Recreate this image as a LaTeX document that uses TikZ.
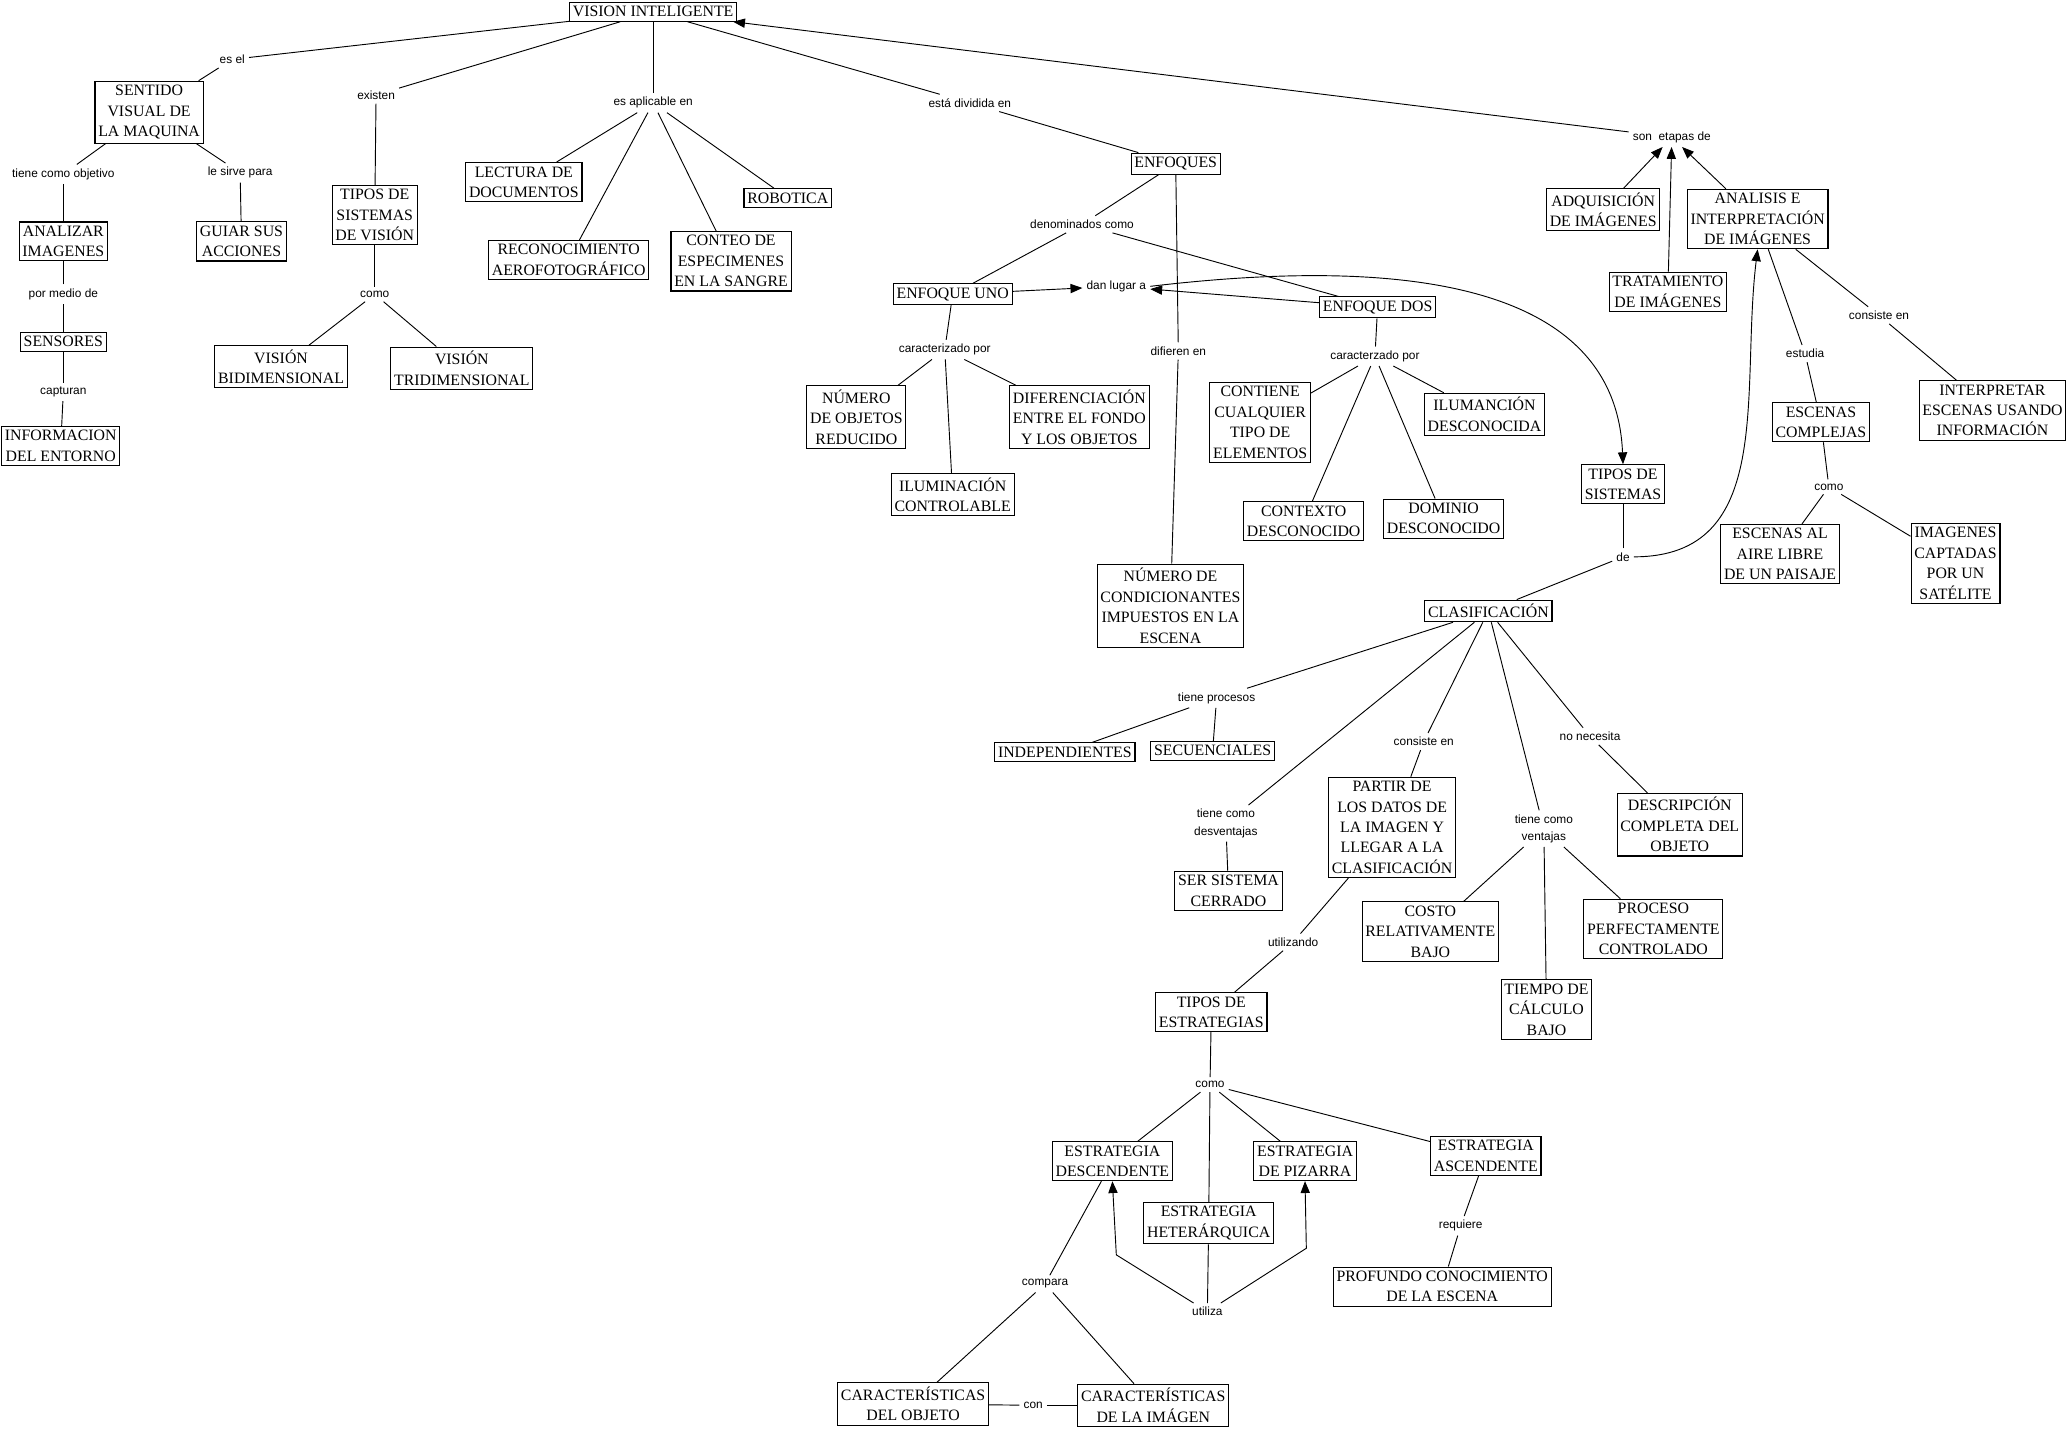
\documentclass[tikz,border=0pt]{standalone}
\usepackage{fontspec}
\setmainfont{Liberation Serif}
\newfontfamily\lblfont{Liberation Sans}
\usetikzlibrary{arrows.meta}

\begin{document}
\begin{tikzpicture}[x=1pt,y=-1pt,
  concept/.style={draw,line width=0.8pt,rectangle,align=center,inner xsep=2.5pt,inner ysep=3pt,font=\fontsize{12}{15.5}\selectfont},
  link/.style={align=center,inner sep=3pt,font=\lblfont\fontsize{9}{13}\selectfont},
  conn/.style={line width=0.7pt},
  connarr/.style={conn,-{Triangle[length=9pt,width=7pt]}}]
\useasboundingbox (0,0) rectangle (1568,1083);

\node[concept] (vision) at (495,9) {VISION INTELIGENTE};
\node[concept] (sentido) at (113,85) {SENTIDO\\VISUAL DE\\LA MAQUINA};
\node[concept] (analizar) at (48,183) {ANALIZAR\\IMAGENES};
\node[concept] (sensores) at (48,259) {SENSORES};
\node[concept] (informacion) at (46,338) {INFORMACION\\DEL ENTORNO};
\node[concept] (guiar) at (183,183) {GUIAR SUS\\ACCIONES};
\node[concept] (tipossv) at (284,163) {TIPOS DE\\SISTEMAS\\DE VISIÓN};
\node[concept] (bidim) at (213,278) {VISIÓN\\BIDIMENSIONAL};
\node[concept] (tridim) at (350,279) {VISIÓN\\TRIDIMENSIONAL};
\node[concept] (lectura) at (397,138) {LECTURA DE\\DOCUMENTOS};
\node[concept] (reconoc) at (431,197) {RECONOCIMIENTO\\AEROFOTOGRÁFICO};
\node[concept] (conteo) at (554,198) {CONTEO DE\\ESPECIMENES\\EN LA SANGRE};
\node[concept] (robotica) at (597,150) {ROBOTICA};
\node[concept] (enfoques) at (891,124) {ENFOQUES};
\node[concept] (enfuno) at (722,223) {ENFOQUE UNO};
\node[concept] (enfdos) at (1044,233) {ENFOQUE DOS};
\node[concept] (numobj) at (649,316) {NÚMERO\\DE OBJETOS\\REDUCIDO};
\node[concept] (difer) at (818,316) {DIFERENCIACIÓN\\ENTRE EL FONDO\\Y LOS OBJETOS};
\node[concept] (ilumctl) at (722,375) {ILUMINACIÓN\\CONTROLABLE};
\node[concept] (numcond) at (887,459) {NÚMERO DE\\CONDICIONANTES\\IMPUESTOS EN LA\\ESCENA};
\node[concept] (contiene) at (955,320) {CONTIENE\\CUALQUIER\\TIPO DE\\ELEMENTOS};
\node[concept] (ilumdesc) at (1125,314) {ILUMANCIÓN\\DESCONOCIDA};
\node[concept] (contexto) at (988,395) {CONTEXTO\\DESCONOCIDO};
\node[concept] (dominio) at (1094,393) {DOMINIO\\DESCONOCIDO};
\node[concept] (adquis) at (1215,159) {ADQUISICIÓN\\DE IMÁGENES};
\node[concept] (tratam) at (1264,221) {TRATAMIENTO\\DE IMÁGENES};
\node[concept] (analisis) at (1332,166) {ANALISIS E\\INTERPRETACIÓN\\DE IMÁGENES};
\node[concept] (interpretar) at (1510,311) {INTERPRETAR\\ESCENAS USANDO\\INFORMACIÓN};
\node[concept] (escenas) at (1380,320) {ESCENAS\\COMPLEJAS};
\node[concept] (escaire) at (1349,420) {ESCENAS AL\\AIRE LIBRE\\DE UN PAISAJE};
\node[concept] (imgsat) at (1482,427) {IMAGENES\\CAPTADAS\\POR UN\\SATÉLITE};
\node[concept] (tipossis) at (1230,367) {TIPOS DE\\SISTEMAS};
\node[concept] (clasif) at (1128,463) {CLASIFICACIÓN};
\node[concept] (indep) at (807,570) {INDEPENDIENTES};
\node[concept] (secuen) at (919,569) {SECUENCIALES};
\node[concept] (sercerrado) at (931,675) {SER SISTEMA\\CERRADO};
\node[concept] (partir) at (1055,627) {PARTIR DE\\LOS DATOS DE\\LA IMAGEN Y\\LLEGAR A LA\\CLASIFICACIÓN};
\node[concept] (costo) at (1084,706) {COSTO\\RELATIVAMENTE\\BAJO};
\node[concept] (tiempo) at (1172,765) {TIEMPO DE\\CÁLCULO\\BAJO};
\node[concept] (proceso) at (1253,704) {PROCESO\\PERFECTAMENTE\\CONTROLADO};
\node[concept] (descripcion) at (1273,625) {DESCRIPCIÓN\\COMPLETA DEL\\OBJETO};
\node[concept] (tiposest) at (918,767) {TIPOS DE\\ESTRATEGIAS};
\node[concept] (estdesc) at (843,880) {ESTRATEGIA\\DESCENDENTE};
\node[concept] (estpiz) at (989,880) {ESTRATEGIA\\DE PIZARRA};
\node[concept] (estasc) at (1126,876) {ESTRATEGIA\\ASCENDENTE};
\node[concept] (esthet) at (916,927) {ESTRATEGIA\\HETERÁRQUICA};
\node[concept] (profundo) at (1093,975) {PROFUNDO CONOCIMIENTO\\DE LA ESCENA};
\node[concept] (carobj) at (692,1064) {CARACTERÍSTICAS\\DEL OBJETO};
\node[concept] (carimg) at (874,1065) {CARACTERÍSTICAS\\DE LA IMÁGEN};

\node[link] (esel) at (176,45) {es el};
\node[link] (existen) at (285,72) {existen};
\node[link] (aplicable) at (495,78) {es aplicable en};
\node[link] (dividida) at (735,78) {está dividida en};
\node[link] (etapas) at (1267,104) {son\ \ etapas de};
\node[link] (tieneobj) at (48,132) {tiene como objetivo};
\node[link] (sirve) at (182,131) {le sirve para};
\node[link] (pormedio) at (48,223) {por medio de};
\node[link] (capturan) at (48,297) {capturan};
\node[link] (como1) at (284,223) {como};
\node[link] (denominados) at (820,170) {denominados como};
\node[link] (danlugar) at (846,217) {dan lugar a};
\node[link] (caract1) at (716,265) {caracterizado por};
\node[link] (difieren) at (893,266) {difieren en};
\node[link] (caract2) at (1042,270) {caracterzado por};
\node[link] (consiste1) at (1424,239) {consiste en};
\node[link] (estudia) at (1368,268) {estudia};
\node[link] (como2) at (1386,369) {como};
\node[link] (de) at (1230,422) {de};
\node[link] (tieneproc) at (922,529) {tiene procesos};
\node[link] (consiste2) at (1079,562) {consiste en};
\node[link] (nonecesita) at (1205,558) {no necesita};
\node[link] (desventajas) at (929,624) {tiene como\\desventajas};
\node[link] (ventajas) at (1170,628) {tiene como\\ventajas};
\node[link] (utilizando) at (980,714) {utilizando};
\node[link] (como3) at (917,822) {como};
\node[link] (requiere) at (1107,929) {requiere};
\node[link] (compara) at (792,973) {compara};
\node[link] (utiliza) at (915,994) {utiliza};
\node[link] (con) at (783,1065) {con};

\coordinate (bendD) at (846,951);
\coordinate (bendP) at (990,946);

\path[conn] (esel) edge (vision) edge (sentido);
\path[conn] (existen) edge (vision) edge (tipossv);
\path[conn] (aplicable) edge (vision) edge (lectura) edge (reconoc) edge (conteo) edge (robotica);
\path[conn] (dividida) edge (vision) edge (enfoques);
\path[conn] (tieneobj) edge (sentido) edge (analizar);
\path[conn] (sirve) edge (sentido) edge (guiar);
\path[conn] (pormedio) edge (analizar) edge (sensores);
\path[conn] (capturan) edge (sensores) edge (informacion);
\path[conn] (como1) edge (tipossv) edge (bidim) edge (tridim);
\path[conn] (denominados) edge (enfoques) edge (enfuno) edge (enfdos);
\path[conn] (difieren) edge (enfoques) edge (numcond);
\path[conn] (caract1) edge (enfuno) edge (numobj) edge (difer) edge (ilumctl);
\path[conn] (caract2) edge (enfdos) edge (contiene) edge (contexto) edge (dominio) edge (ilumdesc);
\path[conn] (estudia) edge (analisis) edge (escenas);
\path[conn] (consiste1) edge (analisis) edge (interpretar);
\path[conn] (como2) edge (escenas) edge (escaire) edge (imgsat);
\path[conn] (de) edge (tipossis) edge (clasif);
\path[conn] (tieneproc) edge (clasif) edge (indep) edge (secuen);
\path[conn] (desventajas) edge (clasif) edge (sercerrado);
\path[conn] (consiste2) edge (clasif) edge (partir);
\path[conn] (ventajas) edge (clasif) edge (costo) edge (tiempo) edge (proceso);
\path[conn] (nonecesita) edge (clasif) edge (descripcion);
\path[conn] (utilizando) edge (partir) edge (tiposest);
\path[conn] (como3) edge (tiposest) edge (estdesc) edge (esthet) edge (estpiz) edge (estasc);
\path[conn] (requiere) edge (estasc) edge (profundo);
\path[conn] (compara) edge (estdesc) edge (carobj) edge (carimg);
\path[conn] (con) edge (carobj) edge (carimg);
\path[conn] (utiliza) edge (esthet);

\draw[connarr] (etapas) -- (vision);
\draw[connarr] (adquis) -- (etapas);
\draw[connarr] (tratam) -- (etapas);
\draw[connarr] (analisis) -- (etapas);
\draw[connarr] (enfuno) -- (danlugar);
\draw[connarr] (enfdos) -- (danlugar);
\draw[connarr] (danlugar.east) .. controls (1100,190) and (1225,230) .. (tipossis.north);
\draw[connarr] (de.east) to[out=0,in=263,looseness=1.1] (analisis.south);
\draw[connarr] (utiliza) -- (bendD) -- (estdesc.south);
\draw[connarr] (utiliza) -- (bendP) -- (estpiz.south);
\end{tikzpicture}
\end{document}
